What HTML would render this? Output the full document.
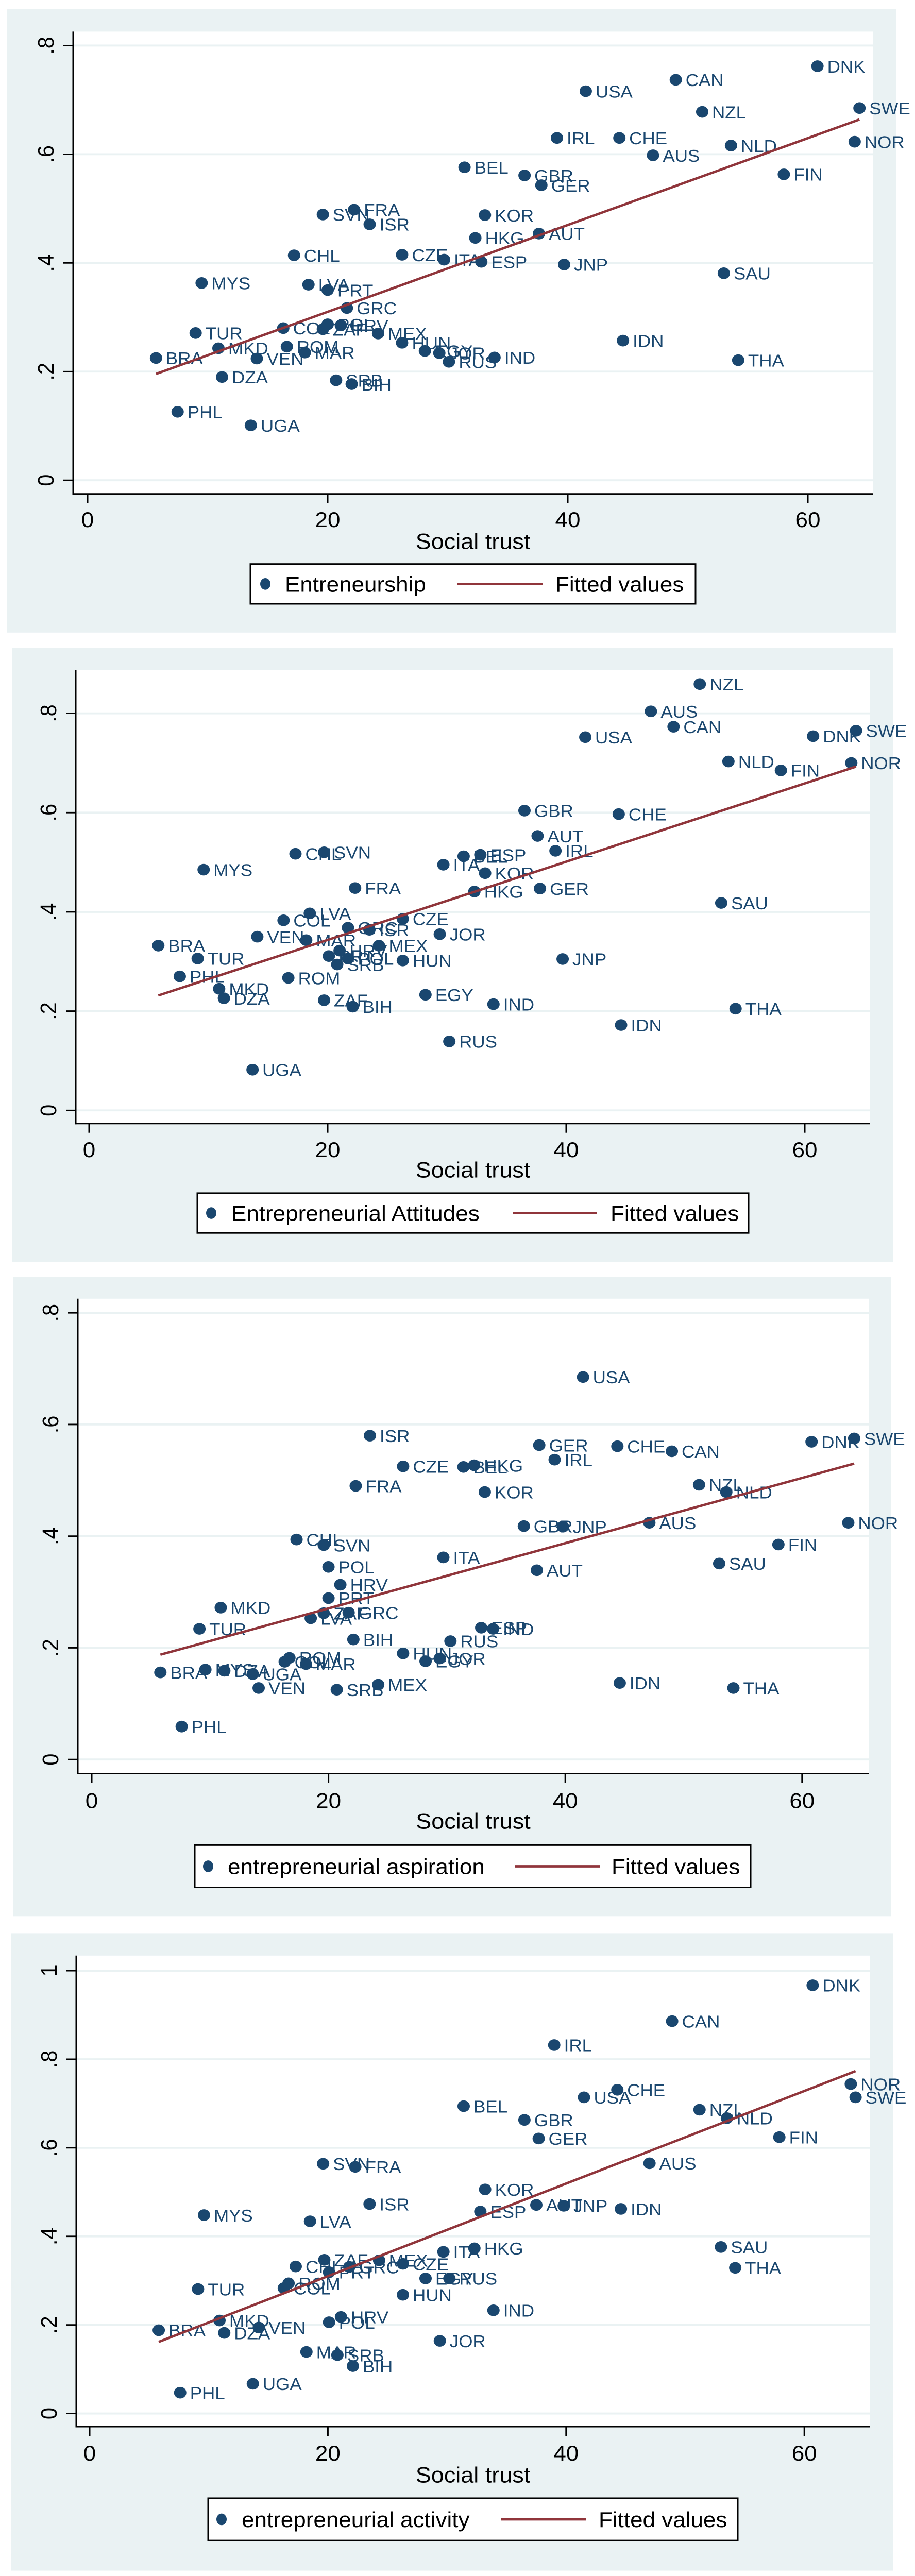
<!DOCTYPE html>
<html><head><meta charset="utf-8">
<style>
html,body{margin:0;padding:0;background:#fff;width:100%;height:100%;overflow:hidden;}
svg{display:block;font-family:"Liberation Sans",Arial,sans-serif;overflow:hidden;width:100vw;height:100vh;}
</style></head>
<body>
<svg id="chart" xmlns="http://www.w3.org/2000/svg" viewBox="0 0 1776 5294" preserveAspectRatio="none"></svg>
<script>
// ---- Panel 1: Entreneurship ----
const p1Labels=["DNK","CAN","USA","SWE","NZL","IRL","CHE","NLD","NOR","AUS","BEL","GBR","GER","FIN","FRA","SVN","KOR","ISR","HKG","AUT","CHL","CZE","ITA","ESP","JNP","SAU","MYS","LVA","PRT","GRC","COL","ZAF","POL","HRV","MEX","TUR","IDN","HUN","MKD","ROM","MAR","EGY","JOR","BRA","VEN","RUS","IND","THA","DZA","SRB","BIH","PHL","UGA"];
const p1Trust=[60.8,49.0,41.5,64.3,51.2,39.1,44.3,53.6,63.9,47.1,31.4,36.4,37.8,58.0,22.2,19.6,33.1,23.5,32.3,37.6,17.2,26.2,29.7,32.8,39.7,53.0,9.5,18.4,20.0,21.6,16.3,19.6,20.0,21.1,24.2,9.0,44.6,26.2,10.9,16.6,18.1,28.1,29.3,5.7,14.1,30.1,33.9,54.2,11.2,20.7,22.0,7.5,13.6];
const p1Values=[.762,.737,.716,.685,.678,.630,.630,.616,.623,.598,.576,.561,.543,.563,.498,.489,.488,.471,.446,.454,.414,.415,.406,.402,.397,.381,.363,.360,.350,.317,.280,.278,.287,.285,.270,.271,.257,.253,.243,.246,.235,.238,.234,.225,.224,.218,.226,.221,.190,.184,.177,.126,.101];
// ---- Panel 2: Entrepreneurial Attitudes ----
const p2Labels=["NZL","AUS","CAN","USA","DNK","SWE","NLD","FIN","NOR","GBR","CHE","AUT","IRL","CHL","SVN","BEL","ESP","ITA","KOR","MYS","FRA","HKG","GER","SAU","LVA","COL","CZE","GRC","ISR","JOR","VEN","MAR","MEX","HRV","BRA","PRT","POL","TUR","SRB","HUN","JNP","PHL","ROM","MKD","DZA","ZAF","BIH","EGY","IND","THA","IDN","RUS","UGA"];
const p2Trust=[51.2,47.1,49.0,41.6,60.7,64.3,53.6,58.0,63.9,36.5,44.4,37.6,39.1,17.3,19.7,31.4,32.8,29.7,33.2,9.6,22.3,32.3,37.8,53.0,18.5,16.3,26.3,21.7,23.5,29.4,14.1,18.2,24.3,21.0,5.8,20.1,21.7,9.1,20.8,26.3,39.7,7.6,16.7,10.9,11.3,19.7,22.1,28.2,33.9,54.2,44.6,30.2,13.7];
const p2Values=[.859,.804,.773,.752,.754,.765,.703,.685,.700,.604,.597,.553,.523,.517,.520,.512,.515,.495,.478,.485,.448,.441,.447,.418,.397,.383,.386,.368,.364,.355,.350,.343,.332,.322,.332,.311,.306,.306,.294,.302,.305,.270,.267,.245,.226,.222,.209,.233,.214,.205,.172,.139,.082];
// ---- Panel 3: entrepreneurial aspiration ----
const p3Labels=["USA","ISR","GER","CHE","CAN","DNK","SWE","IRL","CZE","BEL","HKG","FRA","NZL","NLD","KOR","GBR","JNP","AUS","NOR","CHL","SVN","FIN","ITA","SAU","AUT","POL","HRV","PRT","MKD","ZAF","GRC","LVA","TUR","ESP","IND","BIH","RUS","HUN","JOR","EGY","ROM","COL","MAR","MYS","DZA","UGA","BRA","VEN","SRB","MEX","IDN","THA","PHL"];
const p3Trust=[41.5,23.5,37.8,44.4,49.0,60.8,64.4,39.1,26.3,31.4,32.3,22.3,51.3,53.6,33.2,36.5,39.8,47.1,63.9,17.3,19.6,58.0,29.7,53.0,37.6,20.0,21.0,20.0,10.9,19.6,21.7,18.5,9.1,32.9,33.9,22.1,30.3,26.3,29.4,28.2,16.7,16.3,18.1,9.6,11.2,13.6,5.8,14.1,20.7,24.2,44.6,54.2,7.6];
const p3Values=[.685,.580,.563,.561,.552,.569,.575,.537,.525,.524,.527,.490,.492,.479,.479,.418,.417,.424,.424,.394,.384,.385,.362,.351,.339,.345,.313,.289,.272,.262,.263,.253,.234,.236,.234,.215,.212,.190,.181,.176,.182,.175,.171,.161,.159,.153,.156,.128,.125,.134,.137,.128,.059];
// ---- Panel 4: entrepreneurial activity ----
const p4Labels=["DNK","CAN","IRL","NOR","SWE","CHE","USA","BEL","NZL","NLD","GBR","GER","FIN","SVN","FRA","AUS","KOR","ISR","AUT","JNP","IDN","ESP","MYS","LVA","SAU","THA","HKG","ITA","ZAF","MEX","CZE","CHL","GRC","PRT","EGY","RUS","ROM","COL","TUR","HUN","IND","HRV","MKD","POL","VEN","BRA","DZA","JOR","MAR","SRB","BIH","UGA","PHL"];
const p4Trust=[60.7,48.9,39.0,63.9,64.3,44.3,41.5,31.4,51.2,53.5,36.5,37.7,57.9,19.6,22.3,47.0,33.2,23.5,37.5,39.8,44.6,32.8,9.6,18.5,53.0,54.2,32.3,29.7,19.7,24.3,26.3,17.3,21.8,20.1,28.2,30.2,16.7,16.3,9.1,26.3,33.9,21.1,10.9,20.1,14.2,5.8,11.3,29.4,18.2,20.8,22.1,13.7,7.6];
const p4Values=[.967,.886,.832,.744,.714,.731,.714,.694,.686,.667,.663,.621,.624,.564,.557,.565,.506,.473,.471,.469,.462,.456,.448,.434,.376,.329,.373,.365,.347,.346,.338,.332,.331,.319,.305,.305,.294,.283,.281,.268,.233,.218,.210,.206,.194,.188,.182,.164,.139,.132,.107,.067,.047];

const xTickLabels=["0","20","40","60"];
const xTickValues=[0,20,40,60];
const yTickValuesA=[0,.2,.4,.6,.8];
const yTickLabelsA=["0",".2",".4",".6",".8"];
const yTickValuesB=[0,.2,.4,.6,.8,1];
const yTickLabelsB=["0",".2",".4",".6",".8","1"];
const legendNames=["Entreneurship","Entrepreneurial Attitudes","entrepreneurial aspiration","entrepreneurial activity"];

const NS="http://www.w3.org/2000/svg";
const svg=document.getElementById('chart');
function mk(tag,attrs,parent){const e=document.createElementNS(NS,tag);for(const k in attrs)e.setAttribute(k,attrs[k]);(parent||svg).appendChild(e);return e;}

const panels=[
 {key:'p1',labels:p1Labels,xs:p1Trust,ys:p1Values,yt:yTickValuesA,ytl:yTickLabelsA,legend:legendNames[0],
  bg:[14,19,1739,1300],plot:[142,65,1694,1015],x0:170,xu:23.3,y0:987,yu:1116.7,xtickY:1067,titleY:1112,
  leg:[486,1159,1350,1241],lm:515,lt:553,ll1:887,ll2:1054,lf:1078},
 {key:'p2',labels:p2Labels,xs:p2Trust,ys:p2Values,yt:yTickValuesA,ytl:yTickLabelsA,legend:legendNames[1],
  bg:[23,1332,1734,2594],plot:[147,1377,1689,2309],x0:173,xu:23.15,y0:2282,yu:1020,xtickY:2362,titleY:2404,
  leg:[383,2452,1453,2534],lm:410,lt:449,ll1:995,ll2:1158,lf:1185},
 {key:'p3',labels:p3Labels,xs:p3Trust,ys:p3Values,yt:yTickValuesA,ytl:yTickLabelsA,legend:legendNames[2],
  bg:[25,2624,1730,3938],plot:[151,2669,1686,3645],x0:178,xu:22.98,y0:3616,yu:1147.5,xtickY:3700,titleY:3742,
  leg:[378,3792,1457,3879],lm:404,lt:442,ll1:999,ll2:1164,lf:1187},
 {key:'p4',labels:p4Labels,xs:p4Trust,ys:p4Values,yt:yTickValuesB,ytl:yTickLabelsB,legend:legendNames[3],
  bg:[22,3973,1733,5283],plot:[148,4019,1688,4987],x0:174,xu:23.12,y0:4960,yu:910,xtickY:5041,titleY:5086,
  leg:[404,5134,1432,5221],lm:430,lt:469,ll1:972,ll2:1137,lf:1162}
];

panels.forEach(p=>{
  const g=mk('g',{});
  
  
  const X=v=>p.x0+v*p.xu, Y=v=>p.y0-v*p.yu;
  const bg=mk('rect',{x:p.bg[0],y:p.bg[1],width:p.bg[2]-p.bg[0],height:p.bg[3]-p.bg[1],fill:'#eaf2f3'},g);
  
  
  const [L,T,R,B]=p.plot;
  const pr=mk('rect',{x:L,y:T,width:R-L,height:B-T,fill:'#ffffff'},g);
  
  
  p.yt.forEach((v,i)=>{
    const gl=mk('line',{x1:L,x2:R,y1:Y(v),y2:Y(v),stroke:'#eaf2f3','stroke-width':4},g);
    
    
    const tk=mk('line',{x1:L-19,x2:L,y1:Y(v),y2:Y(v),stroke:'#000','stroke-width':3},g);
    
    
    const tl=mk('text',{x:0,y:0,transform:`translate(${L-38},${Y(v)}) rotate(-90)`,'text-anchor':'middle','font-size':44,fill:'#000'},g);
    tl.textContent=p.ytl[i];
    
    
  });
  xTickValues.forEach((v,i)=>{
    const tk=mk('line',{x1:X(v),x2:X(v),y1:B,y2:B+19,stroke:'#000','stroke-width':3},g);
    
    
    const tl=mk('text',{x:X(v),y:p.xtickY+16,'text-anchor':'middle','font-size':44,fill:'#000'},g);
    tl.textContent=xTickLabels[i];
    
    
  });
  const ax=mk('line',{x1:L,x2:L,y1:T,y2:B+1.5,stroke:'#000','stroke-width':3},g);
  
  
  const bx=mk('line',{x1:L-1.5,x2:R,y1:B,y2:B,stroke:'#000','stroke-width':3},g);
  
  
  const tt=mk('text',{x:(L+R)/2,y:p.titleY+16,'text-anchor':'middle','font-size':45,fill:'#000'},g);
  tt.textContent='Social trust';
  
  
  const n=p.xs.length;let mx=0,my=0;for(let i=0;i<n;i++){mx+=p.xs[i];my+=p.ys[i];}mx/=n;my/=n;
  let sxy=0,sxx=0;for(let i=0;i<n;i++){sxy+=(p.xs[i]-mx)*(p.ys[i]-my);sxx+=(p.xs[i]-mx)**2;}
  const b=sxy/sxx,a=my-b*mx;const xmin=Math.min(...p.xs),xmax=Math.max(...p.xs);
  for(let i=0;i<n;i++){
    const c=mk('circle',{cx:X(p.xs[i]),cy:Y(p.ys[i]),r:12,fill:'#1a476f'},g);
    
    
    const t=mk('text',{x:X(p.xs[i])+19,y:Y(p.ys[i])+13,'font-size':35,fill:'#1a476f'},g);
    t.textContent=p.labels[i];
    
    
  }
  const fl=mk('line',{x1:X(xmin),y1:Y(a+b*xmin),x2:X(xmax),y2:Y(a+b*xmax),stroke:'#90353b','stroke-width':5},g);
  
  
  const [l1,t1,r1,b1]=p.leg;const cy=(t1+b1)/2;
  const lg=mk('g',{},g);
  
  
  mk('rect',{x:l1,y:t1,width:r1-l1,height:b1-t1,fill:'#fff',stroke:'#000','stroke-width':3},lg);
  const lm=mk('ellipse',{cx:p.lm,cy:cy,rx:10,ry:12,fill:'#1a476f'},lg);
  
  
  const lt=mk('text',{x:p.lt,y:cy+16,'font-size':44,fill:'#000'},lg);
  lt.textContent=p.legend;
  
  
  const ll=mk('line',{x1:p.ll1,x2:p.ll2,y1:cy,y2:cy,stroke:'#90353b','stroke-width':5},lg);
  
  
  const lf=mk('text',{x:p.lf,y:cy+16,'font-size':44,fill:'#000'},lg);
  lf.textContent='Fitted values';
  
  
});
</script>
</body></html>
